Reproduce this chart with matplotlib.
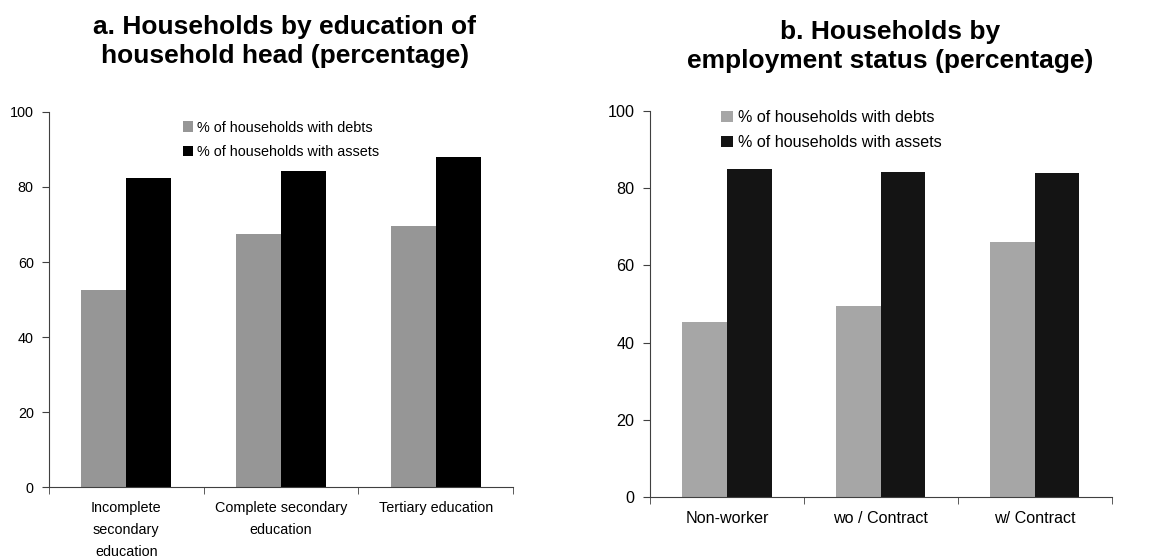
import numpy as np
import matplotlib
matplotlib.use("Agg")
import matplotlib.pyplot as plt

plt.rcParams['font.family'] = ['Liberation Sans', 'DejaVu Sans']

# panel a: education of household head
edu_labels = ['Incomplete\nsecondary\neducation', 'Complete secondary\neducation', 'Tertiary education']
edu_debts = [52.5, 67.5, 69.6]
edu_assets = [82.4, 84.3, 88.0]

# panel b: employment status
emp_labels = ['Non-worker', 'wo / Contract', 'w/ Contract']
emp_debts = [45.3, 49.5, 66.1]
emp_assets = [85.0, 84.2, 83.9]

legend_labels = ['% of households with debts', '% of households with assets']

fig = plt.figure(figsize=(11.58, 5.58), dpi=100)
ax1 = fig.add_axes([0.0423, 0.1272, 0.4007, 0.6721])
ax2 = fig.add_axes([0.5613, 0.1093, 0.3987, 0.6918])


def draw_panel(ax, labels, debts, assets, grey, black, fs, leg_pos, leg_space):
    x = np.arange(len(labels))
    w = 0.29
    ax.bar(x - w / 2, debts, w, color=grey, label=legend_labels[0])
    ax.bar(x + w / 2, assets, w, color=black, label=legend_labels[1])
    ax.set_xlim(-0.5, len(labels) - 0.5)
    ax.set_ylim(0, 100)
    ax.set_yticks([0, 20, 40, 60, 80, 100])
    ax.set_xticks(x)
    ax.set_xticklabels(labels, fontsize=fs, linespacing=1.75)
    ax.set_xticks(np.arange(len(labels) + 1) - 0.5, minor=True)
    ax.tick_params(axis='x', which='major', length=0, pad=10)
    ax.tick_params(axis='x', which='minor', length=5, direction='out', color='#404040')
    ax.tick_params(axis='y', length=5, direction='out', labelsize=fs, color='#404040', pad=6)
    for s in ['top', 'right']:
        ax.spines[s].set_visible(False)
    ax.spines['left'].set_color('#404040')
    ax.spines['bottom'].set_color('#404040')
    ax.legend(loc='upper left', bbox_to_anchor=leg_pos, bbox_transform=fig.transFigure,
              frameon=False, fontsize=fs, handlelength=0.7, handleheight=0.7,
              handletextpad=0.3, labelspacing=leg_space, borderpad=0, borderaxespad=0)


draw_panel(ax1, edu_labels, edu_debts, edu_assets, '#969696', '#000000',
           10.4, (0.158, 0.784), 0.75)
draw_panel(ax2, emp_labels, emp_debts, emp_assets, '#a6a6a6', '#141414',
           11.6, (0.623, 0.803), 0.65)

fig.text(0.246, 0.925, 'a. Households by education of\nhousehold head (percentage)',
         ha='center', va='center', fontsize=19, fontweight='bold', linespacing=1.25)
fig.text(0.769, 0.916, 'b. Households by\nemployment status (percentage)',
         ha='center', va='center', fontsize=19, fontweight='bold', linespacing=1.25)

fig.savefig('out.png', dpi=100)
